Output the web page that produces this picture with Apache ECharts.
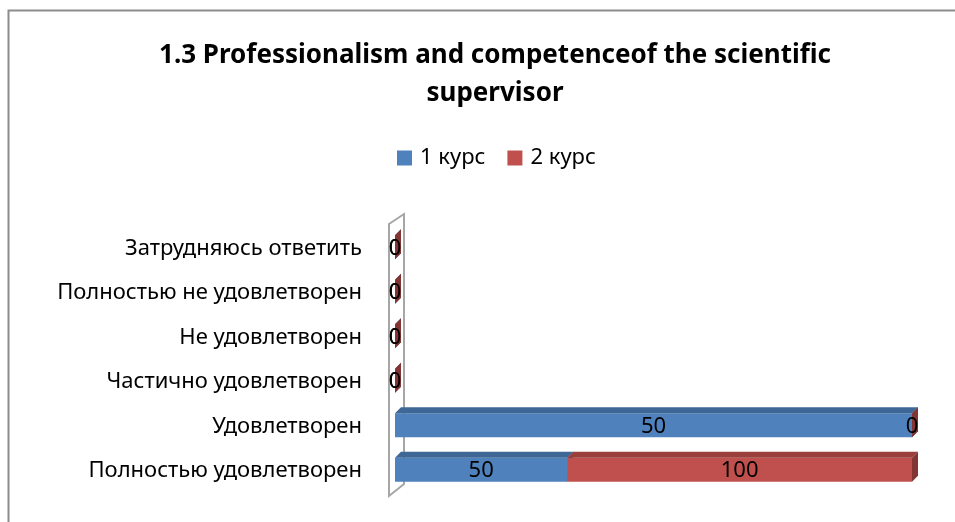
<!DOCTYPE html>
<html>
<head>
<meta charset="utf-8">
<script src="https://cdn.jsdelivr.net/npm/echarts@6/dist/echarts.min.js"></script>
<style>
  html, body { margin: 0; padding: 0; background: #fff; }
  #chart { width: 955px; height: 522px; }
</style>
</head>
<body>
<div id="chart"></div>
<script>
// categories listed bottom to top, as the axis draws them
const categories = [
  "Полностью удовлетворен",
  "Удовлетворен",
  "Частично удовлетворен",
  "Не удовлетворен",
  "Полностью не удовлетворен",
  "Затрудняюсь ответить"
];
const course1 = [50, 50, 0, 0, 0, 0];
const course2 = [100, 0, 0, 0, 0, 0];
const seriesNames = ["1 курс", "2 курс"];

const FONT = "'Noto Sans', sans-serif";
const colors = [
  { front: "#4f81bd", top: "#3e6795", side: "#345883" },
  { front: "#c0504d", top: "#9a3f3c", side: "#833533" }
];

// 100% stacked: each row is shown as share of its total, labels keep raw values
const totals = categories.map((_, i) => course1[i] + course2[i]);
const pct = (v, i) => (totals[i] ? (v / totals[i]) * 100 : 0);

function segments(values, offsets) {
  return values.map((v, i) => {
    const start = offsets ? pct(offsets[i], i) : 0;
    return [start, start + pct(v, i), i, v];
  });
}

function renderBox(colorSet) {
  return function (params, api) {
    const s = api.coord([api.value(0), api.value(2)]);
    const e = api.coord([api.value(1), api.value(2)]);
    const h = 24, d = 6;
    const y1 = s[1] - h / 2 - 1;
    const x0 = s[0], x1 = e[0];
    return {
      type: "group",
      children: [
        { type: "rect", shape: { x: x0, y: y1, width: x1 - x0, height: h },
          style: { fill: colorSet.front } },
        { type: "polygon", shape: { points: [[x0, y1], [x1, y1], [x1 + d, y1 - d], [x0 + d, y1 - d]] },
          style: { fill: colorSet.top } },
        { type: "polygon", shape: { points: [[x1, y1], [x1 + d, y1 - d], [x1 + d, y1 + h - d], [x1, y1 + h]] },
          style: { fill: colorSet.side } },
        { type: "text", z2: 10, style: {
            text: String(api.value(3)), x: (x0 + x1) / 2, y: y1 + h / 2 + 1,
            align: "center", verticalAlign: "middle",
            fill: "#000", font: "22px " + FONT } }
      ]
    };
  };
}

function renderWall(params, api) {
  const bottom = api.coord([0, 0]);
  const top = api.coord([0, categories.length - 1]);
  const band = api.size([0, 1])[1];
  const x0 = bottom[0];
  const yb = bottom[1] + band / 2, yt = top[1] - band / 2;
  return {
    type: "polygon",
    shape: { points: [[x0 - 6, yt - 2], [x0 + 9, yt - 12], [x0 + 9, yb - 9], [x0 - 6, yb + 3]] },
    style: { fill: "#fff", stroke: "#a6a6a6", lineWidth: 2 }
  };
}

const chart = echarts.init(document.getElementById("chart"));
chart.setOption({
  animation: false,
  title: {
    text: "1.3 Professionalism and competenceof the scientific\nsupervisor",
    left: 490, top: 32, textAlign: "center",
    textStyle: { fontFamily: FONT, fontSize: 26, fontWeight: "bold", color: "#000", lineHeight: 38 }
  },
  legend: {
    data: seriesNames,
    top: 142, left: 392,
    icon: "rect", itemWidth: 15, itemHeight: 15, itemGap: 22,
    textStyle: { fontFamily: FONT, fontSize: 22, color: "#000", padding: [0, 0, 0, 3] }
  },
  graphic: [{
    type: "rect", silent: true, z: -1,
    shape: { x: 8.5, y: 10.5, width: 1000, height: 600 },
    style: { fill: "none", stroke: "#8c8c8c", lineWidth: 2 }
  }],
  grid: { left: 395, right: 43, top: 226, bottom: 29 },
  xAxis: { type: "value", min: 0, max: 100, show: false },
  yAxis: {
    type: "category", data: categories,
    axisLine: { show: false }, axisTick: { show: false },
    axisLabel: { margin: 33, fontFamily: FONT, fontSize: 22, color: "#000" }
  },
  series: [
    { type: "custom", name: "wall", silent: true, z: 1, renderItem: renderWall,
      data: [[0, 0]], encode: { x: 0, y: 1 } },
    { type: "custom", name: seriesNames[0], z: 2, renderItem: renderBox(colors[0]),
      itemStyle: { color: colors[0].front },
      data: segments(course1), encode: { x: [0, 1], y: 2 } },
    { type: "custom", name: seriesNames[1], z: 3, renderItem: renderBox(colors[1]),
      itemStyle: { color: colors[1].front },
      data: segments(course2, course1), encode: { x: [0, 1], y: 2 } }
  ]
});
</script>
</body>
</html>
